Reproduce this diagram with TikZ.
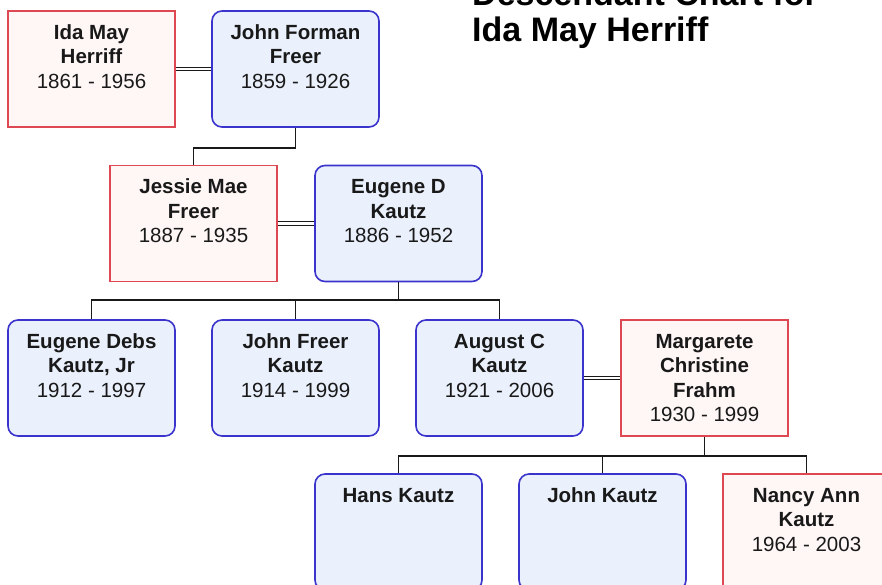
\documentclass[tikz,border=0pt]{standalone}
\usepackage{fontspec}
\setmainfont{Liberation Sans}
\definecolor{fem}{RGB}{222,72,82}
\definecolor{femfill}{RGB}{255,246,246}
\definecolor{mal}{RGB}{58,52,205}
\definecolor{malfill}{RGB}{234,240,252}
\definecolor{ink}{RGB}{25,25,25}
\newcommand{\pers}[2]{\parbox[c][116pt][t]{165pt}{\centering\fontsize{20.5}{24.6}\selectfont\rule{0pt}{28pt}\textbf{#1}\\#2}}
\tikzset{
  person/.style={inner sep=0pt, minimum width=167pt, minimum height=116pt, line width=1.6pt, text=ink},
  female/.style={person, draw=fem, fill=femfill, rectangle},
  male/.style={person, draw=mal, fill=malfill, rounded corners=10pt},
  marriage/.style={draw=ink, line width=1.2pt, double=white, double distance=2.2pt},
  kin/.style={draw=ink, line width=1.8pt},
  titletext/.style={inner sep=0pt, anchor=base west, font=\fontsize{34}{38}\selectfont\bfseries, text=black}
}
\begin{document}
\begin{tikzpicture}[x=1pt, y=-1pt]
\useasboundingbox (0,0) rectangle (882,584);
\clip (0,0) rectangle (882,584);
\fill[white] (0,0) rectangle (882,584);
% title
\node[titletext] (t1) at (472,5) {Descendant Chart for};
\node[titletext] (t2) at (472,41) {Ida May Herriff};
% row 1
\node[female] (ida) at (91.5,69) {\pers{Ida May\\Herriff}{1861 - 1956}};
\node[male] (jff) at (295.5,69) {\pers{John Forman\\Freer}{1859 - 1926}};
% row 2
\node[female] (jmf) at (193.5,223.5) {\pers{Jessie Mae\\Freer}{1887 - 1935}};
\node[male] (edk) at (398.5,223.5) {\pers{Eugene D\\Kautz}{1886 - 1952}};
% row 3
\node[male] (edj) at (91.5,378) {\pers{Eugene Debs\\Kautz, Jr}{1912 - 1997}};
\node[male] (jfk) at (295.5,378) {\pers{John Freer\\Kautz}{1914 - 1999}};
\node[male] (ack) at (499.5,378) {\pers{August C\\Kautz}{1921 - 2006}};
\node[female] (mcf) at (704.5,378) {\pers{Margarete\\Christine\\Frahm}{1930 - 1999}};
% row 4
\node[male] (hk) at (398.5,532) {\pers{Hans Kautz}{}};
\node[male] (jk) at (602.5,532) {\pers{John Kautz}{}};
\node[female] (nak) at (806.5,532) {\pers{Nancy Ann\\Kautz}{1964 - 2003}};
% marriages
\draw[marriage] (ida.east) -- (jff.west);
\draw[marriage] (jmf.east) -- (edk.west);
\draw[marriage] (ack.east) -- (mcf.west);
% descent
\draw[kin] (jff.south) -- ++(0,20) -| (jmf.north);
\draw[kin] (edk.south) -- ++(0,18) coordinate (b1);
\draw[kin] (b1) -| (edj.north);
\draw[kin] (b1) -| (jfk.north);
\draw[kin] (b1) -| (ack.north);
\draw[kin] (mcf.south) -- ++(0,19) coordinate (b2);
\draw[kin] (b2) -| (hk.north);
\draw[kin] (b2) -| (jk.north);
\draw[kin] (b2) -| (nak.north);
\end{tikzpicture}
\end{document}
